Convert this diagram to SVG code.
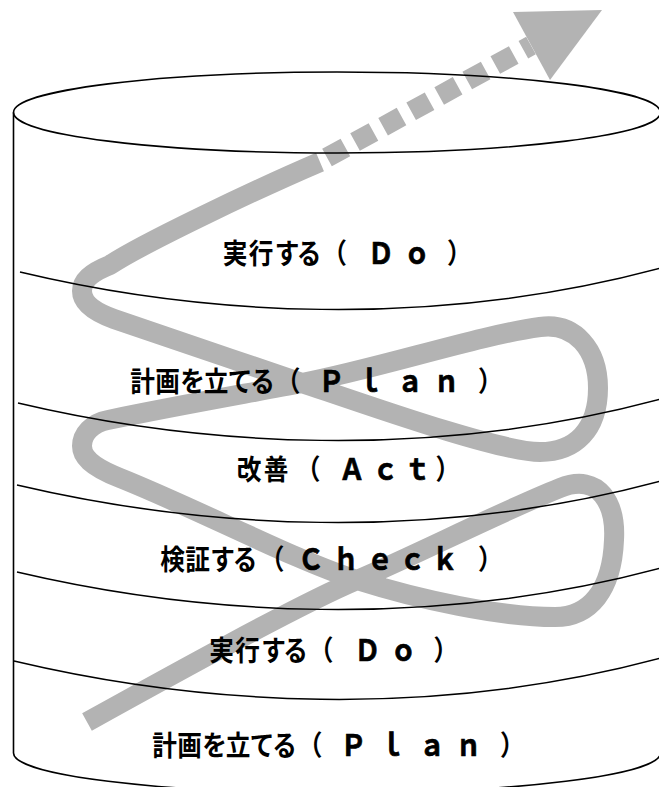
<svg xmlns="http://www.w3.org/2000/svg" width="659" height="787" viewBox="0 0 659 787">
<style>
.band{fill:none;stroke:#b3b3b3;stroke-width:20;stroke-linejoin:round;stroke-linecap:butt}
.edge{fill:none;stroke:#000;stroke-width:1.6}
.div{fill:none;stroke:#000;stroke-width:1.5}
.lbl{font-family:"Noto Sans CJK JP","Noto Sans",sans-serif;font-weight:700;font-size:28px;fill:#000;text-anchor:middle}
.lat{font-size:30px;stroke:#000;stroke-width:0.7px}
</style>
<rect width="659" height="787" fill="#fff"/>
<g id="connectors">
<path class="band" d="M87 722 C170 676 300 604 357 580 C420 553 500 512 560 488 C600 472 616 505 614 540 C612 590 590 617 555 617 C500 617 420 600 357 580 C294 560 200 510 120 478 C90 466 82 456 82 446 C82 434 92 423 108 420 C180 405 250 393 302 383 C380 368 480 335 540 327 C575 322 598 350 598 388 C598 430 575 452 540 452 C500 452 370 406 302 383 C240 362 150 331 114 319 C92 311 82 302 82 291 C82 281 90 273 110 265 C140 245 250 192 320 162"/>
<line class="band" x1="327" y1="157.5" x2="531" y2="45.5" stroke-dasharray="21 11"/>
<polygon points="513,12 550,80 602,10" fill="#b3b3b3"/>
</g>
<g id="cylinder">
<ellipse class="edge" cx="337" cy="112.5" rx="323.5" ry="40.5"/>
<path class="edge" d="M13.5 112.5 V753 A323.5 40 0 0 0 660.5 753"/>
<path class="div" d="M20 272 C200 315 430 330 661 268"/>
<path class="div" d="M18 403 C200 446 430 461 661 399"/>
<path class="div" d="M17 485 C200 528 430 543 661 481"/>
<path class="div" d="M17 572 C200 615 430 630 661 568"/>
<path class="div" d="M14 661 C200 705 430 720 661 658"/>
</g>
<g id="label-do-1" transform="translate(0,264) scale(0.88,1)">
<text class="lbl" x="267 296.6 326.1 351.1 380.2 433 473.9 522" y="0">実行する（<tspan class="lat">Ｄｏ</tspan>）</text>
</g>
<g id="label-plan-1" transform="translate(0,392) scale(0.88,1)">
<text class="lbl" x="161.9 190.3 218.75 245.5 272.7 298.3 327.4 376.7 420.5 465.9 507.4 557.3" y="0">計画を立てる（<tspan class="lat">Ｐｌａｎ</tspan>）</text>
</g>
<g id="label-act" transform="translate(0,480) scale(0.88,1)">
<text class="lbl" x="283 313.6 350.1 400 438.1 474.4 509" y="0">改善（<tspan class="lat">Ａｃｔ</tspan>）</text>
</g>
<g id="label-check" transform="translate(0,570) scale(0.88,1)">
<text class="lbl" x="196 224.4 252.8 278.4 309.2 353.4 393.2 431.8 468.75 505.7 557.3" y="0">検証する（<tspan class="lat">Ｃｈｅｃｋ</tspan>）</text>
</g>
<g id="label-do-2" transform="translate(0,661) scale(0.88,1)">
<text class="lbl" x="251.7 281.25 310.8 335.8 364.9 417.6 458.5 506.7" y="0">実行する（<tspan class="lat">Ｄｏ</tspan>）</text>
</g>
<g id="label-plan-2" transform="translate(0,756) scale(0.88,1)">
<text class="lbl" x="186.9 215.3 243.75 270.5 297.7 323.3 352.4 401.7 445.5 490.9 532.4 582.3" y="0">計画を立てる（<tspan class="lat">Ｐｌａｎ</tspan>）</text>
</g>
</svg>
